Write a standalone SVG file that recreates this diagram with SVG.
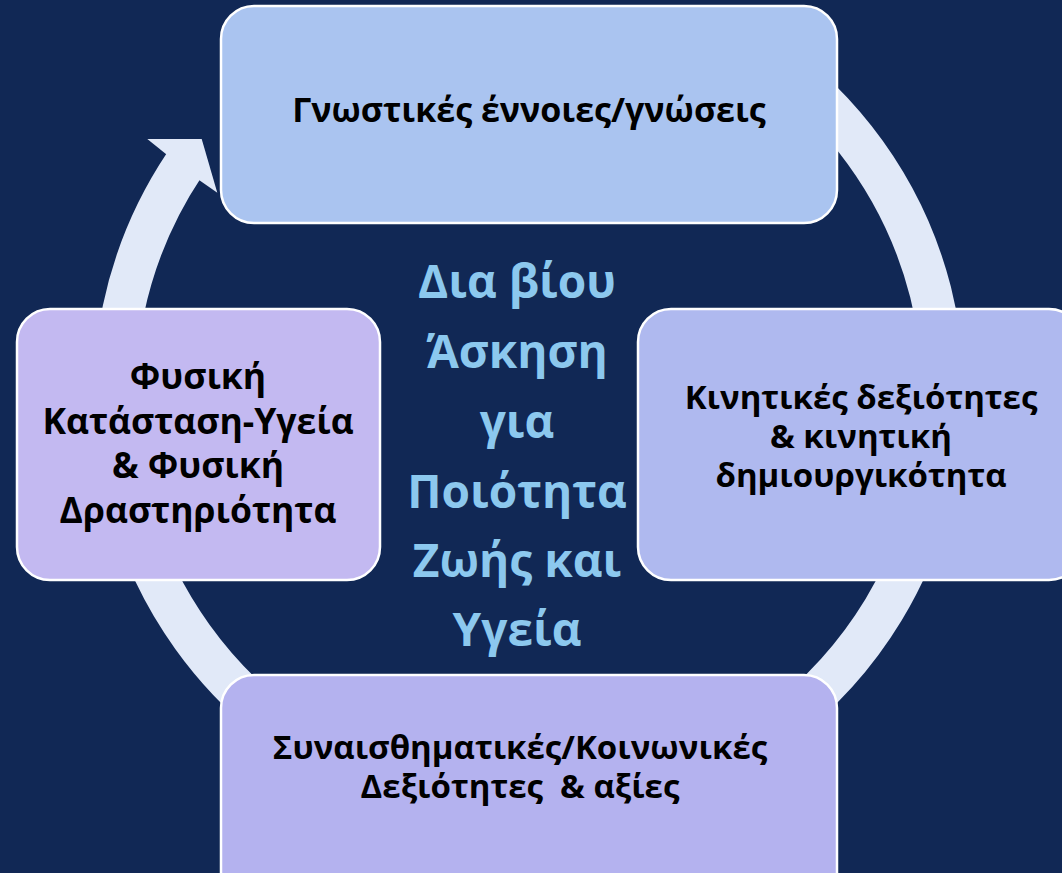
<svg xmlns="http://www.w3.org/2000/svg" width="1062" height="873" viewBox="0 0 1062 873">
<style>
.node{stroke:#FFFFFF;stroke-width:2.5}
.t{font-family:"Open Sans","Noto Sans","DejaVu Sans",sans-serif;font-weight:bold;fill:#000000;text-anchor:middle}
.c{font-family:"Open Sans","Noto Sans","DejaVu Sans",sans-serif;font-weight:bold;fill:#8CC8EE;text-anchor:middle;font-size:46px}
</style>
<rect x="0" y="0" width="1062" height="873" fill="#112855"/>
<g id="connectors">
<path d="M 736.3 36.0 A 414.5 414.5 0 1 1 184.2 165.0" fill="none" stroke="#E1E9F8" stroke-width="42"/>
<polygon points="165,153.3 147.3,139 201.7,139 217.3,192.7 199,180" fill="#E1E9F8"/>
</g>
<g id="center-text">
<text class="c" x="517" y="298">Δια βίου</text>
<text class="c" x="517" y="368">Άσκηση</text>
<text class="c" x="517" y="438">για</text>
<text class="c" x="517" y="508">Ποιότητα</text>
<text class="c" x="517" y="577">Ζωής και</text>
<text class="c" x="517" y="646">Υγεία</text>
</g>
<g id="node-top">
<rect class="node" x="221" y="6" width="616" height="217" rx="33" fill="#AAC4F0"/>
<text class="t" x="529" y="122" font-size="34">Γνωστικές έννοιες/γνώσεις</text>
</g>
<g id="node-right">
<rect class="node" x="638" y="309" width="444" height="271" rx="33" fill="#AFB9EF"/>
<text class="t" x="861" y="409" font-size="33">Κινητικές δεξιότητες</text>
<text class="t" x="861" y="448" font-size="33">&amp; κινητική</text>
<text class="t" x="861" y="487" font-size="33">δημιουργικότητα</text>
</g>
<g id="node-bottom">
<rect class="node" x="221" y="675" width="616" height="240" rx="33" fill="#B4B2EF"/>
<text class="t" x="520" y="759" font-size="33">Συναισθηματικές/Κοινωνικές</text>
<text class="t" x="520" y="798" font-size="33" style="white-space:pre">Δεξιότητες  &amp; αξίες</text>
</g>
<g id="node-left">
<rect class="node" x="17" y="309" width="363" height="271" rx="33" fill="#C3B9F1"/>
<text class="t" x="198" y="389" font-size="35.5">Φυσική</text>
<text class="t" x="198" y="434" font-size="35.5">Κατάσταση-Υγεία</text>
<text class="t" x="198" y="478" font-size="35.5">&amp; Φυσική</text>
<text class="t" x="198" y="523" font-size="35.5">Δραστηριότητα</text>
</g>
</svg>
